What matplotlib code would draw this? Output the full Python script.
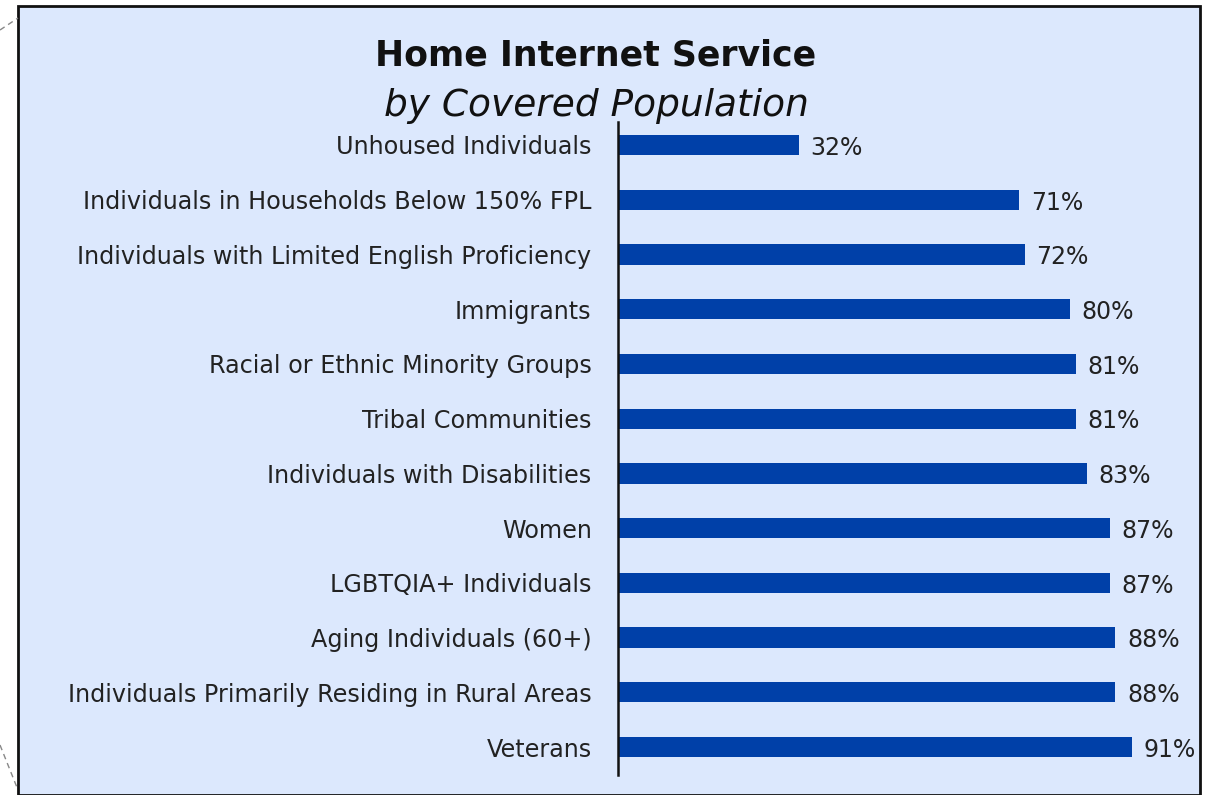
import matplotlib
matplotlib.use("Agg")
import matplotlib.pyplot as plt
from matplotlib.patches import Rectangle
from matplotlib.lines import Line2D

categories = [
    "Unhoused Individuals",
    "Individuals in Households Below 150% FPL",
    "Individuals with Limited English Proficiency",
    "Immigrants",
    "Racial or Ethnic Minority Groups",
    "Tribal Communities",
    "Individuals with Disabilities",
    "Women",
    "LGBTQIA+ Individuals",
    "Aging Individuals (60+)",
    "Individuals Primarily Residing in Rural Areas",
    "Veterans",
]
values = [32, 71, 72, 80, 81, 81, 83, 87, 87, 88, 88, 91]
value_labels = [f"{v}%" for v in values]

title = "Home Internet Service"
subtitle = "by Covered Population"

BG = "#dce8fd"
BAR = "#0040a8"
TXT = "#222222"

W, H = 1215, 795
fig = plt.figure(figsize=(W / 100, H / 100), dpi=100)
fig.patch.set_facecolor("white")

# framed panel behind the chart
panel = Rectangle((18 / W, 0), (1200 - 18) / W, (H - 6) / H, transform=fig.transFigure,
                  facecolor=BG, edgecolor="#111111", linewidth=2, zorder=-10)
fig.add_artist(panel)
# dashed corner guides
fig.add_artist(Line2D([0 / W, 18 / W], [1 - 30 / H, 1 - 18 / H], transform=fig.transFigure,
                      color="#888888", lw=1, ls=(0, (4, 3)), zorder=-10))
fig.add_artist(Line2D([0 / W, 18 / W], [1 - 745 / H, 1 - 790 / H], transform=fig.transFigure,
                      color="#888888", lw=1, ls=(0, (4, 3)), zorder=-10))

ax_left, ax_right = 618 / W, 1183 / W
ax_top, ax_bot = 1 - 122 / H, 1 - 775 / H
ax = fig.add_axes([ax_left, ax_bot, ax_right - ax_left, ax_top - ax_bot], zorder=5)
ax.set_facecolor("none")

y = list(range(len(categories)))
ax.barh(y, values, height=0.37, color=BAR, zorder=2)
ax.set_xlim(0, 100)
ax.set_ylim(11.51, -0.42)

for yi, v, lab in zip(y, values, value_labels):
    ax.annotate(lab, (v, yi), xytext=(8.5, -2), textcoords="offset points",
                ha="left", va="center", fontsize=17, color=TXT)

ax.set_yticks(y)
ax.set_yticklabels(categories, fontsize=17.2, color=TXT)
ax.tick_params(axis="y", length=0, pad=19)
ax.set_xticks([])
for s in ["top", "right", "bottom"]:
    ax.spines[s].set_visible(False)
ax.spines["left"].set_color("#111111")
ax.spines["left"].set_linewidth(1.8)

fig.text(596 / W, 1 - 55 / H, title, ha="center", va="center",
         fontsize=25, fontweight="bold", color="#111111", zorder=6)
fig.text(596 / W, 1 - 106 / H, subtitle, ha="center", va="center",
         fontsize=27, fontstyle="italic", color="#111111", zorder=6)

fig.savefig("out.png", dpi=100, facecolor=fig.get_facecolor())
